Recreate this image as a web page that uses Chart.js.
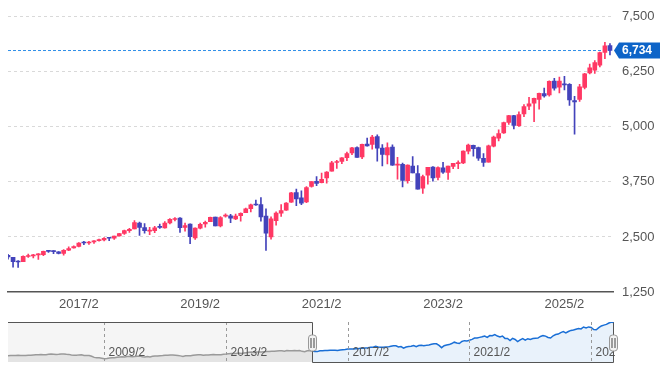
<!DOCTYPE html>
<html>
<head>
<meta charset="utf-8">
<script src="https://cdn.jsdelivr.net/npm/chart.js@4/dist/chart.umd.min.js"></script>
<style>
  html, body { margin: 0; padding: 0; background: #fff; overflow: hidden; }
  #wrap { position: relative; width: 671px; height: 378px; }
  #main { position: absolute; left: 0; top: 0; }
  #nav { position: absolute; left: 0; top: 310px; }
</style>
</head>
<body>
<div id="wrap">
  <canvas id="main" width="671" height="318"></canvas>
  <canvas id="nav" width="671" height="68"></canvas>
</div>
<script>
// monthly candles, 2015/12 .. 2025/11 (index 0 .. 119)
const opens = [2082.93,
  2038.20, 1936.94, 1937.09, 2056.62, 2067.17, 2093.94, 2099.34, 2173.15, 2171.33, 2164.33, 2128.68, 2200.17,
  2251.57, 2285.59, 2380.13, 2362.34, 2388.50, 2415.65, 2431.39, 2477.10, 2474.42, 2521.20, 2583.21, 2645.10,
  2683.73, 2816.45, 2715.22, 2633.45, 2642.96, 2718.70, 2704.95, 2821.17, 2896.96, 2926.29, 2717.58, 2790.50,
  2476.96, 2702.32, 2798.22, 2848.63, 2952.33, 2751.53, 2971.41, 2980.32, 2909.01, 2983.69, 3050.72, 3143.85,
  3244.67, 3235.66, 2974.28, 2498.08, 2869.09, 3038.78, 3105.92, 3288.26, 3507.44, 3385.87, 3296.20, 3645.87,
  3764.61, 3731.17, 3842.51, 3992.78, 4191.98, 4216.52, 4300.73, 4406.86, 4528.80, 4317.16, 4610.62, 4602.82,
  4778.14, 4519.57, 4363.14, 4540.32, 4130.61, 4149.78, 3781.00, 4112.38, 3936.73, 3609.78, 3901.79, 4087.14,
  3853.29, 4070.07, 3963.34, 4102.20, 4166.79, 4183.03, 4450.48, 4578.83, 4530.60, 4284.52, 4201.27, 4559.43,
  4745.20, 4861.11, 5098.51, 5257.97, 5029.03, 5297.15, 5471.08, 5537.84, 5623.89, 5757.73, 5723.22, 6040.11,
  5903.26, 5969.65, 5968.33, 5597.53, 5625.14, 5896.68, 6227.86, 6287.28, 6401.51, 6693.63, 6843.64];
const highs = [2104.27,
  2038.20, 1962.96, 2072.21, 2111.05, 2103.48, 2120.55, 2177.09, 2193.81, 2187.87, 2169.60, 2214.10, 2277.53,
  2300.99, 2371.54, 2400.98, 2398.16, 2418.71, 2453.82, 2484.04, 2490.87, 2519.44, 2582.98, 2657.74, 2694.97,
  2872.87, 2835.96, 2801.90, 2717.49, 2742.24, 2791.47, 2848.03, 2916.50, 2940.91, 2939.86, 2815.15, 2800.18,
  2708.95, 2813.49, 2860.31, 2949.52, 2954.13, 2964.15, 3027.98, 3013.59, 3021.99, 3050.10, 3154.26, 3247.93,
  3337.77, 3393.52, 3136.72, 2954.86, 3068.67, 3233.13, 3279.99, 3514.77, 3588.11, 3549.85, 3645.99, 3760.20,
  3870.90, 3950.43, 3983.87, 4218.78, 4238.04, 4302.43, 4429.97, 4537.36, 4545.85, 4608.08, 4743.83, 4808.93,
  4818.62, 4595.31, 4637.30, 4593.45, 4307.66, 4177.51, 4140.15, 4325.28, 4119.28, 3905.42, 4080.11, 4100.96,
  4094.21, 4195.44, 4110.75, 4170.06, 4231.10, 4458.48, 4607.07, 4584.62, 4541.25, 4393.57, 4587.64, 4793.30,
  4931.09, 5111.06, 5264.85, 5263.95, 5341.88, 5505.53, 5669.67, 5651.62, 5767.37, 5878.46, 6044.17, 6099.97,
  6128.18, 6147.43, 5986.09, 5695.31, 5968.61, 6215.08, 6427.02, 6508.23, 6699.52, 6920.34, 6890.00];
const lows = [1993.26,
  1812.29, 1810.10, 1937.09, 2033.80, 2025.91, 1991.68, 2074.02, 2147.58, 2119.12, 2114.72, 2083.79, 2187.44,
  2245.13, 2271.65, 2322.25, 2328.95, 2352.72, 2405.70, 2407.70, 2417.35, 2446.55, 2520.40, 2557.45, 2605.52,
  2682.36, 2532.69, 2585.89, 2553.80, 2594.62, 2691.99, 2698.95, 2796.34, 2864.12, 2603.54, 2631.09, 2346.58,
  2443.96, 2681.83, 2722.27, 2848.63, 2750.52, 2728.81, 2952.22, 2822.12, 2891.85, 2855.94, 3050.72, 3070.33,
  3214.64, 2855.84, 2191.86, 2447.49, 2766.64, 2965.66, 3101.17, 3284.53, 3209.45, 3233.94, 3279.74, 3633.40,
  3662.71, 3725.62, 3723.34, 3992.78, 4056.88, 4164.40, 4233.13, 4367.73, 4305.91, 4278.94, 4560.00, 4495.12,
  4222.62, 4114.65, 4157.87, 4124.28, 3810.32, 3636.87, 3721.56, 3954.53, 3584.13, 3491.58, 3698.15, 3764.49,
  3794.33, 3943.08, 3808.86, 4049.35, 4048.28, 4166.15, 4385.05, 4335.31, 4238.63, 4103.78, 4197.74, 4546.50,
  4682.11, 4853.52, 5056.82, 4953.56, 5011.05, 5234.32, 5390.95, 5119.26, 5402.62, 5674.00, 5696.51, 5832.30,
  5773.31, 5837.66, 5488.73, 4835.04, 5578.64, 5861.43, 6201.97, 6212.69, 6360.58, 6550.78, 6631.44];
const closes = [2043.94,
  1940.24, 1932.23, 2059.74, 2065.30, 2096.95, 2098.86, 2173.60, 2170.95, 2168.27, 2126.15, 2198.81, 2238.83,
  2278.87, 2363.64, 2362.72, 2384.20, 2411.80, 2423.41, 2470.30, 2471.65, 2519.36, 2575.26, 2647.58, 2673.61,
  2823.81, 2713.83, 2640.87, 2648.05, 2705.27, 2718.37, 2816.29, 2901.52, 2913.98, 2711.74, 2760.17, 2506.85,
  2704.10, 2784.49, 2834.40, 2945.83, 2752.06, 2941.76, 2980.38, 2926.46, 2976.74, 3037.56, 3140.98, 3230.78,
  3225.52, 2954.22, 2584.59, 2912.43, 3044.31, 3100.29, 3271.12, 3500.31, 3363.00, 3269.96, 3621.63, 3756.07,
  3714.24, 3811.15, 3972.89, 4181.17, 4204.11, 4297.50, 4395.26, 4522.68, 4307.54, 4605.38, 4567.00, 4766.18,
  4515.55, 4373.94, 4530.41, 4131.93, 4132.15, 3785.38, 4130.29, 3955.00, 3585.62, 3871.98, 4080.11, 3839.50,
  4076.60, 3970.15, 4109.31, 4169.48, 4179.83, 4450.38, 4588.96, 4507.66, 4288.05, 4193.80, 4567.80, 4769.83,
  4845.65, 5096.27, 5254.35, 5035.69, 5277.51, 5460.48, 5522.30, 5648.40, 5762.48, 5705.45, 6032.38, 5881.63,
  6040.53, 5954.50, 5611.85, 5569.06, 5911.69, 6204.95, 6339.39, 6460.26, 6688.46, 6840.20, 6734.11];
// navigator history before the selected window, 2005/12 .. 2015/11
const histCloses = [1248.29,
  1280.08, 1280.66, 1294.83, 1310.61, 1270.09, 1270.20, 1276.66, 1303.82, 1335.85, 1377.94, 1400.63, 1418.30,
  1438.24, 1406.82, 1420.86, 1482.37, 1530.62, 1503.35, 1455.27, 1473.99, 1526.75, 1549.38, 1481.14, 1468.36,
  1378.55, 1330.63, 1322.70, 1385.59, 1400.38, 1280.00, 1267.38, 1282.83, 1166.36, 968.75, 896.24, 903.25,
  825.88, 735.09, 797.87, 872.81, 919.14, 919.32, 987.48, 1020.62, 1057.08, 1036.19, 1095.63, 1115.10,
  1073.87, 1104.49, 1169.43, 1186.69, 1089.41, 1030.71, 1101.60, 1049.33, 1141.20, 1183.26, 1180.55, 1257.64,
  1286.12, 1327.22, 1325.83, 1363.61, 1345.20, 1320.64, 1292.28, 1218.89, 1131.42, 1253.30, 1246.96, 1257.60,
  1312.41, 1365.68, 1408.47, 1397.91, 1310.33, 1362.16, 1379.32, 1406.58, 1440.67, 1412.16, 1416.18, 1426.19,
  1498.11, 1514.68, 1569.19, 1597.57, 1630.74, 1606.28, 1685.73, 1632.97, 1681.55, 1756.54, 1805.81, 1848.36,
  1782.59, 1859.45, 1872.34, 1883.95, 1923.57, 1960.23, 1930.67, 2003.37, 1972.29, 2018.05, 2067.56, 2058.90,
  1994.99, 2104.50, 2067.89, 2085.51, 2107.39, 2063.11, 2103.84, 1972.18, 1920.03, 2079.36, 2080.41];

const xTickIndex = [14, 38, 62, 86, 110];
const xTickLabels = ["2017/2", "2019/2", "2021/2", "2023/2", "2025/2"];
const yTicks = [1250, 2500, 3750, 5000, 6250, 7500];
const navTickIndex = [38, 86, 134, 182, 230];
const navTickLabels = ["2009/2", "2013/2", "2017/2", "2021/2", "2025/2"];
const lastPrice = closes[closes.length - 1];

const UP = "#ff3864", DOWN = "#4343bb";
const FONT = "'Liberation Sans', Arial, sans-serif";
const dir = (i) => (closes[i] >= opens[i] ? UP : DOWN);
const fmt = (n) => Number(n).toLocaleString("en-US", { maximumFractionDigits: 0 });

// last-price line drawn as a chart dataset, arrow label drawn on the right axis
const priceLabel = {
  id: "priceLabel",
  afterDraw(chart) {
    const { ctx, chartArea: a, scales: { y } } = chart;
    const py = y.getPixelForValue(lastPrice);
    const x0 = a.right + 1, x1 = x0 + 5, x2 = 660, h = 16;
    ctx.save();
    ctx.fillStyle = "#0d64c8";
    ctx.beginPath();
    ctx.moveTo(x0, py); ctx.lineTo(x1, py - h / 2); ctx.lineTo(x2, py - h / 2);
    ctx.lineTo(x2, py + h / 2); ctx.lineTo(x1, py + h / 2); ctx.closePath(); ctx.fill();
    ctx.fillStyle = "#fff"; ctx.font = "bold 12px " + FONT;
    ctx.textAlign = "left"; ctx.textBaseline = "middle";
    ctx.fillText(fmt(lastPrice), 622, py + 0.5);
    ctx.restore();
  }
};

new Chart(document.getElementById("main"), {
  type: "bar",
  data: {
    datasets: [
      { label: "body", order: 1, grouped: false, barThickness: 4, minBarLength: 1,
        data: opens.map((o, i) => ({ x: i, y: [o, closes[i]] })),
        backgroundColor: (c) => dir(c.dataIndex) },
      { label: "wick", order: 2, grouped: false, barThickness: 1,
        data: lows.map((l, i) => ({ x: i, y: [l, highs[i]] })),
        backgroundColor: (c) => dir(c.dataIndex) },
      { type: "line", label: "last", order: 3, data: [{ x: 0, y: lastPrice }, { x: 119.6, y: lastPrice }],
        borderColor: "#2f8fe8", borderWidth: 1, borderDash: [3, 2], pointRadius: 0, fill: false }
    ]
  },
  options: {
    responsive: false, animation: false,
    layout: { padding: { left: 8, top: 15, right: 0, bottom: 0 } },
    plugins: { legend: { display: false }, tooltip: { enabled: false } },
    scales: {
      x: { type: "linear", offset: false, min: 0, max: 119.6,
        afterBuildTicks: (s) => { s.ticks = xTickIndex.map((v) => ({ value: v })); },
        afterFit: (s) => { s.height = 26; },
        grid: { display: false, drawTicks: false },
        border: { display: true, color: "#555", width: 1.5 },
        ticks: { autoSkip: false, maxRotation: 0, padding: 5, color: "#555", font: { family: FONT, size: 13 },
          callback: (v) => xTickLabels[xTickIndex.indexOf(v)] } },
      y: { position: "right", min: 1250, max: 7500,
        afterBuildTicks: (s) => { s.ticks = yTicks.map((v) => ({ value: v })); },
        afterFit: (s) => { s.width = 58; },
        grid: { drawTicks: false, color: (c) => (c.tick && c.tick.value === 1250 ? "rgba(0,0,0,0)" : "#d9d9d9") },
        border: { display: false, dash: [3, 3] },
        ticks: { padding: 9, color: "#555", font: { family: FONT, size: 13 }, callback: (v) => fmt(v) } }
    }
  },
  plugins: [priceLabel]
});

// navigator: full history with the selected window highlighted
const SEL = histCloses.length; // index of 2015/12
const navDeco = {
  id: "navDeco",
  beforeDatasetsDraw(chart) {
    const { ctx, chartArea: a, scales: { x } } = chart;
    const sx = x.getPixelForValue(SEL);
    ctx.save();
    ctx.fillStyle = "#f5f5f5";
    ctx.fillRect(a.left, a.top, sx - a.left, a.bottom - a.top);
    ctx.restore();
  },
  afterDatasetsDraw(chart) {
    const { ctx, chartArea: a, scales: { x } } = chart;
    const sx = Math.round(x.getPixelForValue(SEL)) + 0.5;
    const rx = Math.round(a.right) - 0.5;
    ctx.save();
    ctx.beginPath(); ctx.rect(a.left, a.top - 2, a.right - a.left + 1, a.bottom - a.top + 4); ctx.clip();
    ctx.strokeStyle = "#999"; ctx.lineWidth = 1; ctx.setLineDash([3, 3]);
    ctx.font = "12px " + FONT; ctx.fillStyle = "#555"; ctx.textBaseline = "middle"; ctx.textAlign = "left";
    navTickIndex.forEach((v, i) => {
      const px = Math.round(x.getPixelForValue(v)) + 0.5;
      ctx.beginPath(); ctx.moveTo(px, a.top); ctx.lineTo(px, a.bottom); ctx.stroke();
      ctx.fillText(navTickLabels[i], px + 4, a.bottom - 9);
    });
    ctx.restore();

    ctx.save();
    ctx.strokeStyle = "#555"; ctx.lineWidth = 1;
    const t = Math.round(a.top) + 0.5, b = Math.round(a.bottom) + 0.5;
    ctx.beginPath();
    ctx.moveTo(a.left, t); ctx.lineTo(sx, t); ctx.lineTo(sx, b); ctx.lineTo(rx, b); ctx.lineTo(rx, t);
    ctx.stroke();
    [sx, rx].forEach((hx) => {
      const cy = (a.top + a.bottom) / 2 + 1, w = 8, h = 16;
      ctx.fillStyle = "#f2f2f2"; ctx.strokeStyle = "#999";
      ctx.beginPath(); ctx.roundRect(hx - w / 2, cy - h / 2, w, h, 3); ctx.fill(); ctx.stroke();
      ctx.strokeStyle = "#444";
      ctx.beginPath();
      ctx.moveTo(hx - 1.5, cy - 5); ctx.lineTo(hx - 1.5, cy + 5);
      ctx.moveTo(hx + 1.5, cy - 5); ctx.lineTo(hx + 1.5, cy + 5);
      ctx.stroke();
    });
    ctx.restore();
  }
};

new Chart(document.getElementById("nav"), {
  type: "line",
  data: {
    datasets: [
      { data: histCloses.concat(closes[0]).map((v, i) => ({ x: i, y: v })),
        borderColor: "#9a9a9a", borderWidth: 1.5, backgroundColor: "#e4e4e4", fill: "start", pointRadius: 0 },
      { data: closes.map((v, i) => ({ x: SEL + i, y: v })),
        borderColor: "#1a6fd6", borderWidth: 1.5, backgroundColor: "#e9f2fb", fill: "start", pointRadius: 0 }
    ]
  },
  options: {
    responsive: false, animation: false,
    layout: { padding: { left: 8, right: 57, top: 12, bottom: 16 } },
    plugins: { legend: { display: false }, tooltip: { enabled: false } },
    scales: {
      x: { type: "linear", display: false, min: 0, max: SEL + closes.length - 1 },
      y: { display: false, min: 200, max: 6860 }
    }
  },
  plugins: [navDeco]
});
</script>
</body>
</html>
